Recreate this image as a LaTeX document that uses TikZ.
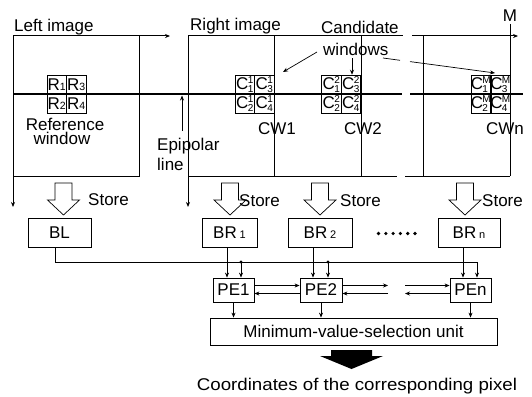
\documentclass[tikz,border=0pt]{standalone}
\usepackage{fontspec}
\setmainfont{Liberation Sans}
\usetikzlibrary{arrows.meta}
\newcommand{\scrf}{\fontsize{10}{10}\selectfont}
\newcommand{\Rc}[1]{R{\fontsize{10.5}{10.5}\selectfont #1}}
\newcommand{\Cc}[2]{C\kern-0.6pt\makebox[0pt][l]{\raisebox{6.3pt}{\scrf #1}}\makebox[0pt][l]{\raisebox{-2.3pt}{\scrf #2}}\hphantom{\scrf #1}}
\tikzset{
  frame/.style={line width=1pt},
  epi/.style={line width=1.5pt},
  arr/.style={-{Stealth[length=5pt,width=4pt]}, line width=0.7pt},
  wire/.style={line width=0.7pt},
  box/.style={draw, line width=0.8pt, inner sep=0pt, font=\fontsize{17}{20}\selectfont},
  lbl/.style={inner sep=0pt, font=\fontsize{17}{20}\selectfont},
  cell/.style={draw, line width=0.5pt, minimum width=19.5pt, minimum height=19pt, inner sep=0pt, font=\fontsize{17}{20}\selectfont},
  hollow/.style={draw, line width=0.7pt, fill=white},
}
\begin{document}
\begin{tikzpicture}[x=1pt,y=-1pt]
\useasboundingbox (0,0) rectangle (532,396);

% ---------- Left image ----------
\draw[frame,arr,line width=1pt] (13,36) -- (170,36);
\draw[frame,arr,line width=1pt] (13,36) -- (13,207);
\draw[frame] (139,36) -- (139,176) -- (13,176);
% ---------- Right image ----------
\draw[frame] (188,36) -- (403,36);
\draw[frame,arr,line width=1pt] (412,36) -- (518,36);
\draw[frame,arr,line width=1pt] (188,36) -- (188,207);
\draw[frame] (274,36) -- (274,176);
\draw[frame] (361,36) -- (361,176);
\draw[frame] (423,36) -- (423,176);
\draw[frame] (510,36) -- (510,176);
\draw[line width=0.5pt] (510,24) -- (510,36);
\draw[frame] (188,176) -- (397,176);
\draw[frame] (405,176) -- (510,176);
% epipolar line
\draw[epi] (13,94) -- (402,94);
\draw[epi] (410,94) -- (523,94);

% ---------- windows ----------
\node[cell] (R1) at (56.75,84.5) {\Rc{1}};
\node[cell] (R3) at (76.25,84.5) {\Rc{3}};
\node[cell] (R2) at (56.75,103.5) {\Rc{2}};
\node[cell] (R4) at (76.25,103.5) {\Rc{4}};

\node[cell] (Ca1) at (244.75,84.5) {\Cc{1}{1}};
\node[cell] (Ca3) at (264.25,84.5) {\Cc{1}{3}};
\node[cell] (Ca2) at (244.75,103.5) {\Cc{1}{2}};
\node[cell] (Ca4) at (264.25,103.5) {\Cc{1}{4}};

\node[cell] (Cb1) at (331.25,84.5) {\Cc{2}{1}};
\node[cell] (Cb3) at (350.75,84.5) {\Cc{2}{3}};
\node[cell] (Cb2) at (331.25,103.5) {\Cc{2}{2}};
\node[cell] (Cb4) at (350.75,103.5) {\Cc{2}{4}};

\node[cell] (Cm1) at (480.75,84.5) {\Cc{M}{1}};
\node[cell] (Cm3) at (500.25,84.5) {\Cc{M}{3}};
\node[cell] (Cm2) at (480.75,103.5) {\Cc{M}{2}};
\node[cell] (Cm4) at (500.25,103.5) {\Cc{M}{4}};

% ---------- labels ----------
\node[lbl, anchor=base west] (limg) at (14,32) {Left image};
\node[lbl, anchor=base west] (rimg) at (190,31) {Right image};
\node[lbl, anchor=base west] (cand) at (321,34) {Candidate};
\node[lbl, anchor=base west] (wins) at (323,56) {windows};
\node[lbl, anchor=base] (mlab) at (510,22) {M};
\node[lbl, anchor=base] (refa) at (65,130) {Reference};
\node[lbl, anchor=base] (refb) at (62,144) {window};
\node[lbl, anchor=base west] (epa) at (157,150) {Epipolar};
\node[lbl, anchor=base west] (epb) at (157,170) {line};
\node[lbl, anchor=base] (cw1) at (277,134) {CW1};
\node[lbl, anchor=base] (cw2) at (363,134) {CW2};
\node[lbl, anchor=base] (cwn) at (505,134) {CWn};

% arrows from "Candidate windows"
\coordinate (w1s) at (317,52);
\coordinate (w1e) at (283,72);
\coordinate (w2s) at (352,58);
\coordinate (w3s) at (383,58);
\coordinate (w3m) at (400,60.3);
\coordinate (w3n) at (410,61.6);
\coordinate (w3e) at (495,73);
\draw[arr] (w1s) -- (w1e);
\draw[arr] (w2s) -- (w2s |- Cb3.north);
\draw[wire] (w3s) -- (w3m);
\draw[arr] (w3n) -- (w3e);
% epipolar pointer
\coordinate (epS) at (182,131);
\coordinate (epE) at (182,95.5);
\draw[arr] (epS) -- (epE);

% ---------- Store arrows ----------
\foreach \cx in {63.5,230,320,465}{
  \draw[hollow] (\cx-8.5,183) -- (\cx+8.5,183) -- (\cx+8.5,200) -- (\cx+16,200)
     -- (\cx,215) -- (\cx-16,200) -- (\cx-8.5,200) -- cycle;
}
\node[lbl, anchor=base west] (st0) at (88,205) {Store};
\node[lbl, anchor=base west] (st1) at (239,206) {Store};
\node[lbl, anchor=base west] (st2) at (340,206) {Store};
\node[lbl, anchor=base west] (stn) at (482,206) {Store};

% ---------- buffers ----------
\node[box, minimum width=63pt, minimum height=29pt] (BL) at (59.5,232.5) {BL};
\node[box, minimum width=55pt, minimum height=29pt] (BR1) at (229.5,232.5) {BR\,{\fontsize{11}{11}\selectfont 1}};
\node[box, minimum width=64pt, minimum height=29pt] (BR2) at (320,232.5) {BR\,{\fontsize{11}{11}\selectfont 2}};
\node[box, minimum width=62pt, minimum height=29pt] (BRn) at (469,232.5) {BR\,{\fontsize{11}{11}\selectfont n}};
\foreach \dx in {0,1,2,3,4,5}{
  \fill (378.5+\dx*7.3,233.5) circle (1.8);
}

% ---------- PEs ----------
\node[box, minimum width=41pt, minimum height=24pt] (PE1) at (233.5,290) {PE1};
\node[box, minimum width=42pt, minimum height=24pt] (PE2) at (321,290) {PE2};
\node[box, minimum width=41pt, minimum height=24pt] (PEn) at (470.5,290) {PEn};
\node[box, minimum width=287pt, minimum height=27pt] (MVS) at (353.5,331.5) {Minimum-value-selection unit};

% bus from BL
\coordinate (busL) at ([xshift=-4.5pt]BL.south);
\coordinate (busY) at (0,262);
\coordinate (jn) at ([xshift=6.5pt]PEn.north);
\draw[arr] (busL) |- (jn |- busY) -- (jn);
\coordinate (j1) at ([xshift=7.5pt]PE1.north);
\coordinate (j2) at ([xshift=7pt]PE2.north);
\fill (j1 |- busY) circle (1.6);
\fill (j2 |- busY) circle (1.6);
\draw[arr] (j1 |- busY) -- (j1);
\draw[arr] (j2 |- busY) -- (j2);
% BR -> PE
\coordinate (a1) at ([xshift=-6.5pt]PE1.north);
\coordinate (a2) at ([xshift=-8pt]PE2.north);
\coordinate (an) at ([xshift=-7.5pt]PEn.north);
\draw[arr] (a1 |- BR1.south) -- (a1);
\draw[arr] (a2 |- BR2.south) -- (a2);
\draw[arr] (an |- BRn.south) -- (an);

% PE chain
\draw[arr] ([yshift=4.5pt]PE1.east) -- ([yshift=4.5pt]PE2.west);
\draw[arr] ([yshift=-3.5pt]PE2.west) -- ([yshift=-3.5pt]PE1.east);
\coordinate (g1u) at (388,285.5);
\coordinate (g1d) at (388,293.5);
\coordinate (g2u) at (405,285.5);
\coordinate (g2d) at (405,293.5);
\draw[arr] ([yshift=4.5pt]PE2.east) -- (g1u);
\draw[arr] (g1d) -- ([yshift=-3.5pt]PE2.east);
\draw[arr] (g2u) -- ([yshift=4.5pt]PEn.west);
\draw[arr] ([yshift=-3.5pt]PEn.west) -- (g2d);

% PE -> MVS
\draw[arr] (PE1.south) -- (PE1.south |- MVS.north);
\draw[arr] (PE2.south) -- (PE2.south |- MVS.north);
\draw[arr] (PEn.south) -- (PEn.south |- MVS.north);

% black output arrow
\fill (331,350) -- (372,350) -- (372,356) -- (383,356) -- (351.5,369)
   -- (320,356) -- (331,356) -- cycle;
\node[lbl, anchor=base] (coord) at (357,390) {\scalebox{1.1}[1]{Coordinates of the corresponding pixel}};
\end{tikzpicture}
\end{document}
